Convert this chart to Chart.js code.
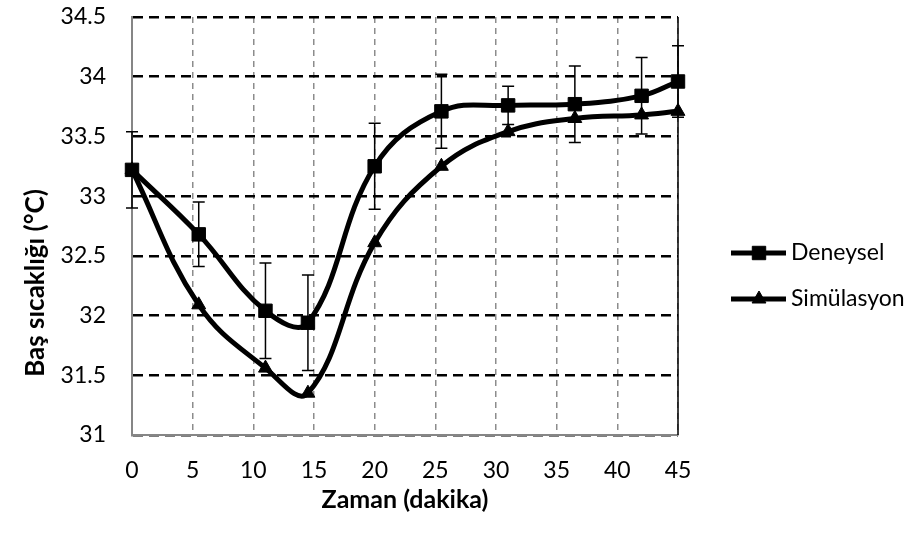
<!DOCTYPE html>
<html lang="tr">
<head>
<meta charset="utf-8">
<title>Baş sıcaklığı</title>
<script src="https://cdn.jsdelivr.net/npm/chart.js@4.4.1/dist/chart.umd.min.js"></script>
<style>
  html, body { margin: 0; padding: 0; background: #ffffff; }
  #wrap { width: 918px; height: 537px; }
</style>
</head>
<body>
<div id="wrap"><canvas id="tempChart" width="918" height="537"></canvas></div>
<script>
// ======================================
// Data
// ======================================

const timeMinutes = [0, 5.5, 11, 14.5, 20, 25.5, 31, 36.5, 42, 45];
const experimental = [33.22, 32.68, 32.04, 31.94, 33.25, 33.71, 33.76, 33.77, 33.84, 33.96];
const experimentalError = [0.32, 0.27, 0.40, 0.40, 0.36, 0.31, 0.16, 0.32, 0.32, 0.30];
const simulation = [33.22, 32.09, 31.56, 31.35, 32.61, 33.25, 33.54, 33.65, 33.68, 33.71];
const seriesNames = ["Deneysel", "Simülasyon"];
const axisTitles = { x: "Zaman (dakika)", y: "Baş sıcaklığı (°C)" };

const FONT = "Lato, 'Open Sans', sans-serif";

// ======================================
// Plugins
// ======================================

const errorBarPlugin = {
  id: "errorBars",
  beforeDatasetsDraw(chart) {
    const { ctx, scales } = chart;
    ctx.save();
    ctx.strokeStyle = "#000000";
    ctx.lineWidth = 1.5;
    timeMinutes.forEach((t, i) => {
      const x = scales.x.getPixelForValue(t);
      const top = scales.y.getPixelForValue(experimental[i] + experimentalError[i]);
      const bottom = scales.y.getPixelForValue(experimental[i] - experimentalError[i]);
      ctx.beginPath();
      ctx.moveTo(x, top);
      ctx.lineTo(x, bottom);
      ctx.moveTo(x - 6, top);
      ctx.lineTo(x + 6, top);
      ctx.moveTo(x - 6, bottom);
      ctx.lineTo(x + 6, bottom);
      ctx.stroke();
    });
    ctx.restore();
  },
};

const frameAndLegendPlugin = {
  id: "frameAndLegend",
  afterDraw(chart) {
    const { ctx, chartArea } = chart;
    ctx.save();

    // right edge of the plot area
    ctx.strokeStyle = "#000000";
    ctx.lineWidth = 1.5;
    ctx.beginPath();
    ctx.moveTo(chartArea.right, chartArea.top);
    ctx.lineTo(chartArea.right, chartArea.bottom);
    ctx.stroke();

    // y axis title (sits lower than the plot centre in the original)
    ctx.fillStyle = "#000000";
    ctx.font = "bold 26px " + FONT;
    ctx.textAlign = "center";
    ctx.textBaseline = "middle";
    ctx.translate(36, 283);
    ctx.rotate(-Math.PI / 2);
    ctx.fillText(axisTitles.y, 0, 0);
    ctx.setTransform(1, 0, 0, 1, 0, 0);

    // legend
    const rows = [
      { name: seriesNames[0], style: "rect", y: 253 },
      { name: seriesNames[1], style: "triangle", y: 299 },
    ];
    rows.forEach((row) => {
      ctx.strokeStyle = "#000000";
      ctx.fillStyle = "#000000";
      ctx.lineWidth = 5;
      ctx.beginPath();
      ctx.moveTo(731, row.y);
      ctx.lineTo(786, row.y);
      ctx.stroke();
      ctx.lineWidth = 1;
      Chart.helpers.drawPoint(ctx, { pointStyle: row.style, radius: row.style === "rect" ? 9.5 : 8, borderWidth: 1 }, 759, row.y);
      ctx.font = "23px " + FONT;
      ctx.textAlign = "left";
      ctx.textBaseline = "middle";
      ctx.fillText(row.name, 791, row.y);
    });
    ctx.restore();
  },
};

// ======================================
// Chart
// ======================================

function toPoints(values) {
  return timeMinutes.map((t, i) => ({ x: t, y: values[i] }));
}

new Chart(document.getElementById("tempChart"), {
  type: "line",
  data: {
    datasets: [
      {
        label: seriesNames[0],
        data: toPoints(experimental),
        borderColor: "#000000",
        backgroundColor: "#000000",
        borderWidth: 5,
        pointStyle: "rect",
        pointRadius: 9.5,
        pointBorderWidth: 1,
        tension: 0.4,
        clip: false,
      },
      {
        label: seriesNames[1],
        data: toPoints(simulation),
        borderColor: "#000000",
        backgroundColor: "#000000",
        borderWidth: 5,
        pointStyle: "triangle",
        pointRadius: 8,
        pointBorderWidth: 1,
        tension: 0.4,
        clip: false,
      },
    ],
  },
  options: {
    responsive: false,
    animation: false,
    layout: { padding: { top: 17, right: 240, bottom: 0, left: 0 } },
    plugins: { legend: { display: false }, tooltip: { enabled: false } },
    scales: {
      x: {
        type: "linear",
        min: 0,
        max: 45,
        afterFit: (scale) => { scale.height = 102; },
        ticks: { stepSize: 5, padding: 22, color: "#000000", font: { family: FONT, size: 23 } },
        grid: { color: "#8c8c8c", lineWidth: 1.5, drawTicks: false },
        border: { display: true, color: "#868686", width: 2, dash: [6, 5] },
        title: {
          display: true,
          text: axisTitles.x,
          color: "#000000",
          font: { family: FONT, size: 25, weight: "bold" },
          padding: { top: 0, bottom: 22 },
        },
      },
      y: {
        min: 31,
        max: 34.5,
        afterFit: (scale) => {
          scale.width = 132;
          scale.paddingTop = 0;
          scale.paddingBottom = 0;
        },
        ticks: {
          stepSize: 0.5,
          padding: 26,
          color: "#000000",
          font: { family: FONT, size: 23 },
          callback: (value) => String(Number(value.toFixed(1))),
        },
        grid: { color: "#000000", lineWidth: 2.5, drawTicks: false },
        border: { display: true, color: "#868686", width: 2, dash: [10, 6] },
      },
    },
  },
  plugins: [errorBarPlugin, frameAndLegendPlugin],
});
</script>
</body>
</html>
